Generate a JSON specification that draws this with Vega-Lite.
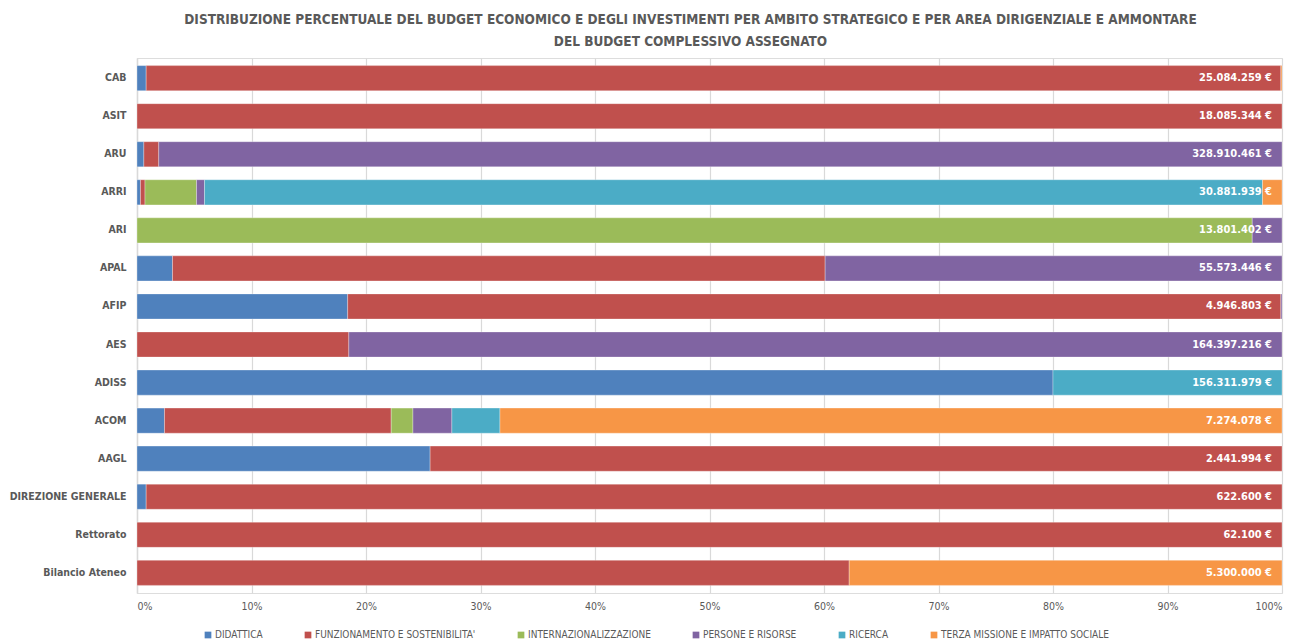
{
  "$schema": "https://vega.github.io/schema/vega-lite/v6.json",
  "autosize": {"type": "none"},
  "width": 1145,
  "height": 535,
  "padding": {"left": 137, "top": 58, "right": 13, "bottom": 50},
  "background": "white",
  "title": {
    "text": ["DISTRIBUZIONE PERCENTUALE DEL BUDGET ECONOMICO E DEGLI INVESTIMENTI PER AMBITO STRATEGICO E PER AREA DIRIGENZIALE E AMMONTARE", "DEL BUDGET COMPLESSIVO ASSEGNATO"],
    "font": "DejaVu Sans Condensed, sans-serif",
    "fontSize": 13.5,
    "fontWeight": "bold",
    "color": "#595959",
    "anchor": "middle",
    "dx": -19,
    "offset": 10,
    "lineHeight": 22
  },
  "datasets": {
    "shares": [
      {"area": "CAB", "ambito": "DIDATTICA", "pct": 0.8},
      {"area": "CAB", "ambito": "FUNZIONAMENTO E SOSTENIBILITA'", "pct": 99.1},
      {"area": "CAB", "ambito": "TERZA MISSIONE E IMPATTO SOCIALE", "pct": 0.1},
      {"area": "ASIT", "ambito": "FUNZIONAMENTO E SOSTENIBILITA'", "pct": 100},
      {"area": "ARU", "ambito": "DIDATTICA", "pct": 0.6},
      {"area": "ARU", "ambito": "FUNZIONAMENTO E SOSTENIBILITA'", "pct": 1.3},
      {"area": "ARU", "ambito": "PERSONE E RISORSE", "pct": 98.1},
      {"area": "ARRI", "ambito": "DIDATTICA", "pct": 0.3},
      {"area": "ARRI", "ambito": "FUNZIONAMENTO E SOSTENIBILITA'", "pct": 0.4},
      {"area": "ARRI", "ambito": "INTERNAZIONALIZZAZIONE", "pct": 4.5},
      {"area": "ARRI", "ambito": "PERSONE E RISORSE", "pct": 0.7},
      {"area": "ARRI", "ambito": "RICERCA", "pct": 92.4},
      {"area": "ARRI", "ambito": "TERZA MISSIONE E IMPATTO SOCIALE", "pct": 1.7},
      {"area": "ARI", "ambito": "INTERNAZIONALIZZAZIONE", "pct": 97.4},
      {"area": "ARI", "ambito": "PERSONE E RISORSE", "pct": 2.6},
      {"area": "APAL", "ambito": "DIDATTICA", "pct": 3.1},
      {"area": "APAL", "ambito": "FUNZIONAMENTO E SOSTENIBILITA'", "pct": 57.0},
      {"area": "APAL", "ambito": "PERSONE E RISORSE", "pct": 39.9},
      {"area": "AFIP", "ambito": "DIDATTICA", "pct": 18.4},
      {"area": "AFIP", "ambito": "FUNZIONAMENTO E SOSTENIBILITA'", "pct": 81.5},
      {"area": "AFIP", "ambito": "PERSONE E RISORSE", "pct": 0.1},
      {"area": "AES", "ambito": "FUNZIONAMENTO E SOSTENIBILITA'", "pct": 18.5},
      {"area": "AES", "ambito": "PERSONE E RISORSE", "pct": 81.5},
      {"area": "ADISS", "ambito": "DIDATTICA", "pct": 80.0},
      {"area": "ADISS", "ambito": "RICERCA", "pct": 20.0},
      {"area": "ACOM", "ambito": "DIDATTICA", "pct": 2.4},
      {"area": "ACOM", "ambito": "FUNZIONAMENTO E SOSTENIBILITA'", "pct": 19.8},
      {"area": "ACOM", "ambito": "INTERNAZIONALIZZAZIONE", "pct": 1.9},
      {"area": "ACOM", "ambito": "PERSONE E RISORSE", "pct": 3.4},
      {"area": "ACOM", "ambito": "RICERCA", "pct": 4.2},
      {"area": "ACOM", "ambito": "TERZA MISSIONE E IMPATTO SOCIALE", "pct": 68.3},
      {"area": "AAGL", "ambito": "DIDATTICA", "pct": 25.6},
      {"area": "AAGL", "ambito": "FUNZIONAMENTO E SOSTENIBILITA'", "pct": 74.4},
      {"area": "DIREZIONE GENERALE", "ambito": "DIDATTICA", "pct": 0.8},
      {"area": "DIREZIONE GENERALE", "ambito": "FUNZIONAMENTO E SOSTENIBILITA'", "pct": 99.2},
      {"area": "Rettorato", "ambito": "FUNZIONAMENTO E SOSTENIBILITA'", "pct": 100},
      {"area": "Bilancio Ateneo", "ambito": "FUNZIONAMENTO E SOSTENIBILITA'", "pct": 62.2},
      {"area": "Bilancio Ateneo", "ambito": "TERZA MISSIONE E IMPATTO SOCIALE", "pct": 37.8}
    ],
    "totals": [
      {"area": "CAB", "total": "25.084.259 €"},
      {"area": "ASIT", "total": "18.085.344 €"},
      {"area": "ARU", "total": "328.910.461 €"},
      {"area": "ARRI", "total": "30.881.939 €"},
      {"area": "ARI", "total": "13.801.402 €"},
      {"area": "APAL", "total": "55.573.446 €"},
      {"area": "AFIP", "total": "4.946.803 €"},
      {"area": "AES", "total": "164.397.216 €"},
      {"area": "ADISS", "total": "156.311.979 €"},
      {"area": "ACOM", "total": "7.274.078 €"},
      {"area": "AAGL", "total": "2.441.994 €"},
      {"area": "DIREZIONE GENERALE", "total": "622.600 €"},
      {"area": "Rettorato", "total": "62.100 €"},
      {"area": "Bilancio Ateneo", "total": "5.300.000 €"}
    ]
  },
  "encoding": {
    "y": {
      "field": "area",
      "type": "nominal",
      "sort": ["CAB", "ASIT", "ARU", "ARRI", "ARI", "APAL", "AFIP", "AES", "ADISS", "ACOM", "AAGL", "DIREZIONE GENERALE", "Rettorato", "Bilancio Ateneo"],
      "scale": {"paddingInner": 0.34, "paddingOuter": 0.2},
      "axis": {
        "title": null,
        "labelFont": "DejaVu Sans Condensed, sans-serif",
        "labelFontSize": 10.5,
        "labelFontWeight": "bold",
        "labelColor": "#595959",
        "labelPadding": 11,
        "labelLimit": 0,
        "ticks": false,
        "domain": true,
        "domainColor": "#D9D9D9",
        "domainWidth": 1.5,
        "grid": false
      }
    }
  },
  "layer": [
    {
      "data": {"name": "shares"},
      "mark": {"type": "bar", "stroke": "white", "strokeWidth": 0.5, "strokeOpacity": 0.6},
      "encoding": {
        "x": {
          "field": "pct",
          "type": "quantitative",
          "stack": "zero",
          "scale": {"domain": [0, 100], "nice": false},
          "axis": {
            "title": null,
            "values": [0, 10, 20, 30, 40, 50, 60, 70, 80, 90, 100],
            "labelExpr": "datum.value + '%'",
            "labelFont": "DejaVu Sans Condensed, sans-serif",
            "labelFontSize": 10.5,
            "labelColor": "#595959",
            "labelPadding": 8,
            "ticks": false,
            "domain": false,
            "grid": true,
            "gridColor": "#D9D9D9",
            "gridWidth": 1.2
          }
        },
        "color": {
          "field": "ambito",
          "type": "nominal",
          "scale": {
            "domain": ["DIDATTICA", "FUNZIONAMENTO E SOSTENIBILITA'", "INTERNAZIONALIZZAZIONE", "PERSONE E RISORSE", "RICERCA", "TERZA MISSIONE E IMPATTO SOCIALE"],
            "range": ["#4F81BD", "#C0504D", "#9BBB59", "#8064A2", "#4BACC6", "#F79646"]
          },
          "legend": {
            "title": null,
            "orient": "none",
            "legendX": 66,
            "legendY": 572,
            "direction": "horizontal",
            "columns": 6,
            "symbolType": "square",
            "symbolSize": 45,
            "symbolStrokeWidth": 0,
            "symbolOffset": 0,
            "labelOffset": 2,
            "labelLimit": 0,
            "labelFont": "DejaVu Sans Condensed, sans-serif",
            "labelFontSize": 10,
            "labelColor": "#595959",
            "columnPadding": 40
          }
        },
        "order": {"field": "ambito", "sort": "ascending"}
      }
    },
    {
      "data": {"name": "totals"},
      "mark": {
        "type": "text",
        "align": "right",
        "baseline": "middle",
        "dx": -10,
        "color": "white",
        "font": "DejaVu Sans Condensed, sans-serif",
        "fontSize": 11,
        "fontWeight": "bold"
      },
      "encoding": {
        "x": {"datum": 100, "type": "quantitative"},
        "text": {"field": "total"}
      }
    }
  ]
}
